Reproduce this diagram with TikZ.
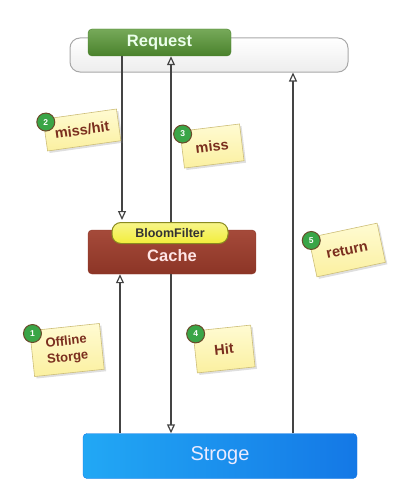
\documentclass[tikz,border=0pt]{standalone}
\usepackage{fontspec}
\setmainfont{Liberation Sans}
\usetikzlibrary{arrows.meta,shadows,calc}
\definecolor{reqgreen}{HTML}{5E9A3C}
\definecolor{reqgreenD}{HTML}{4A822C}
\definecolor{barfill}{HTML}{EDEDED}
\definecolor{barline}{HTML}{A8A8A8}
\definecolor{cachered}{HTML}{A54A3A}
\definecolor{cacheredD}{HTML}{8C3526}
\definecolor{bloomy}{HTML}{F2EE3A}
\definecolor{bloomline}{HTML}{8A8A20}
\definecolor{storeblue}{HTML}{2A92F2}
\definecolor{storeblueD}{HTML}{1478E6}
\definecolor{notefill}{HTML}{FBF0A0}
\definecolor{notefillT}{HTML}{FFFBD2}
\definecolor{noteline}{HTML}{CDBE78}
\definecolor{notetext}{HTML}{7A2E1E}
\definecolor{numgreen}{HTML}{3AA547}
\definecolor{numline}{HTML}{6A4A2A}
\definecolor{arrgray}{HTML}{444444}
\tikzset{
  every node/.style={font=\bfseries},
  box/.style={rounded corners=4pt, minimum height=27pt, inner sep=0pt},
  note/.style={draw=noteline, line width=0.6pt, top color=notefillT, bottom color=notefill,
    text=notetext, font=\bfseries\fontsize{14.5}{15}\selectfont, align=center, inner sep=0pt,
    drop shadow={opacity=0.25, shadow xshift=2pt, shadow yshift=-2pt}},
  num/.style={circle, fill=numgreen, draw=numline, line width=1pt, text=white,
    font=\bfseries\fontsize{8.5}{8.5}\selectfont, minimum size=18pt, inner sep=0pt},
  arr/.style={draw=arrgray, line width=2.2pt, -{Triangle[open, length=9pt, width=8pt, line width=1.2pt]}},
}
\begin{document}
\begin{tikzpicture}[x=1pt,y=-1pt]
\useasboundingbox (0,0) rectangle (400,503);
% request bar
\node[draw=barline, line width=1pt, top color=white, bottom color=barfill, rounded corners=10pt,
  minimum width=278pt, minimum height=34pt, inner sep=0pt] (bar) at (209,55) {};
\node[box, draw=reqgreenD, top color=reqgreen!85!white, bottom color=reqgreenD, minimum width=143pt,
  text=white!92!green, font=\bfseries\fontsize{16.5}{16.5}\selectfont] (req) at (159.5,42.5) {Request};
% cache
\node[box, draw=cacheredD, top color=cachered, bottom color=cacheredD, minimum width=168pt, minimum height=44pt] (cache) at (172,252) {};
\node[text=white!90!red, font=\bfseries\fontsize{16.5}{16.5}\selectfont, inner sep=0pt] (cachelbl) at ([yshift=-3.5pt]cache.center) {Cache};
\node[draw=bloomline, line width=1pt, top color=bloomy!60!white, bottom color=bloomy, rounded corners=9pt,
  minimum width=116pt, minimum height=21pt, inner sep=0pt, text=black!80,
  font=\bfseries\fontsize{12.5}{12.5}\selectfont] (bloom) at (170,233) {BloomFilter};
% storage
\node[box, draw=storeblueD, left color=storeblue!80!cyan, right color=storeblueD, minimum width=274pt, minimum height=45pt,
  text=white!92!blue, font=\fontsize{20}{20}\selectfont] (store) at (220,456) {Stroge};
% x positions
\coordinate (xa) at (122,0);
\coordinate (xb) at (171,0);
\coordinate (xc) at (120,0);
\coordinate (xd) at (293,0);
% connectors
\draw[arr] (req.south -| xa) -- ([yshift=2pt]bloom.north -| xa);
\draw[arr] (bloom.north -| xb) -- (req.south -| xb);
\draw[arr] (cache.south -| xb) -- (store.north -| xb);
\draw[arr] (store.north -| xc) -- (cache.south -| xc);
\draw[arr] (store.north -| xd) -- (bar.south -| xd);
% notes
\node[note, rotate=8, minimum width=74pt, minimum height=32pt] (n2) at (82,130) {\raisebox{-3pt}{miss/hit}};
\node[num] (c2) at ([shift={(3pt,-3pt)}]n2.north west) {2};
\node[note, rotate=7, minimum width=60pt, minimum height=37pt] (n3) at (212,146) {\raisebox{-3pt}{miss}};
\node[num] (c3) at ([shift={(3pt,-3pt)}]n3.north west) {3};
\node[note, rotate=12, minimum width=70pt, minimum height=40pt] (n5) at (347,250) {\raisebox{-3pt}{return}};
\node[num] (c5) at ([shift={(3pt,-3pt)}]n5.north west) {5};
\node[note, rotate=6, minimum width=70pt, minimum height=46pt, font=\bfseries\fontsize{13}{16}\selectfont] (n1) at (67,350) {Offline\\Storge};
\node[num] (c1) at ([shift={(3pt,-3pt)}]n1.north west) {1};
\node[note, rotate=6, minimum width=58pt, minimum height=42pt] (n4) at (224,349) {Hit};
\node[num] (c4) at ([shift={(3pt,-3pt)}]n4.north west) {4};
\end{tikzpicture}
\end{document}
